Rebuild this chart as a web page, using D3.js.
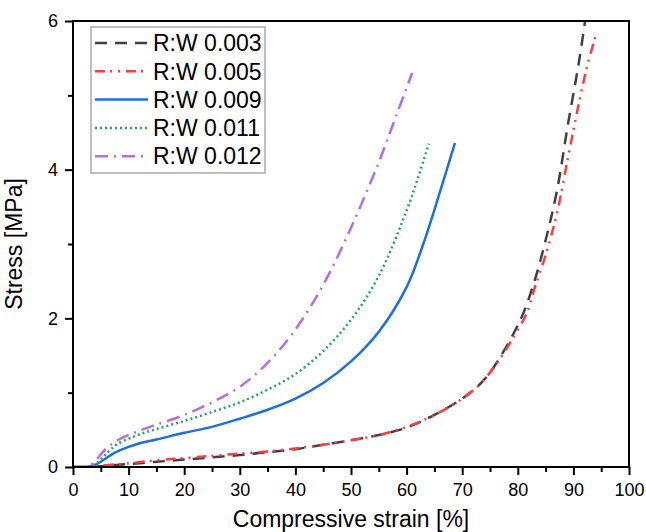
<!DOCTYPE html>
<html>
<head>
<meta charset="utf-8">
<script src="https://cdn.jsdelivr.net/npm/d3@7"></script>
<style>
  body { margin: 0; background: #fff; }
  text { font-family: "Liberation Sans", Arial, sans-serif; }
</style>
</head>
<body>
<svg id="chart" width="646" height="532"></svg>
<script>
// strain [%] / stress [MPa]
var rw003 = [[0,0],[3,0],[5,0.01],[10,0.04],[15,0.07],[20,0.1],[25,0.13],[30,0.16],[35,0.2],[40,0.24],[45,0.3],[50,0.36],[55,0.43],[60,0.53],[65,0.7],[70,0.92],[73,1.1],[75,1.27],[77,1.5],[79,1.76],[81,2.07],[83,2.5],[85,3.05],[87,3.7],[89,4.6],[91,5.45],[92.1,6.0]];
var rw005 = [[0,0],[3,0],[5,0.02],[10,0.05],[15,0.09],[20,0.12],[25,0.15],[30,0.18],[35,0.21],[40,0.25],[45,0.3],[50,0.36],[55,0.43],[60,0.54],[65,0.7],[70,0.92],[73,1.1],[75,1.27],[77,1.48],[79,1.72],[81.6,2.07],[83,2.4],[85,2.85],[87,3.4],[89,4.15],[91,4.9],[92.5,5.4],[94,5.8]];
var rw009 = [[0,0],[2,0],[3,0.01],[4,0.03],[5,0.07],[6,0.12],[7,0.17],[8,0.21],[10,0.27],[12,0.32],[15,0.37],[20,0.46],[25,0.54],[30,0.65],[35,0.77],[40,0.92],[45,1.13],[50,1.42],[55,1.82],[60,2.42],[63,3.0],[66,3.7],[68.7,4.36]];
var rw011 = [[0,0],[2,0],[3,0.01],[4,0.04],[5,0.1],[6,0.18],[7,0.25],[8,0.31],[10,0.38],[12,0.44],[15,0.51],[20,0.62],[25,0.74],[30,0.87],[35,1.04],[40,1.25],[45,1.56],[50,1.98],[55,2.57],[60,3.45],[62,3.88],[64,4.35]];
var rw012 = [[0,0],[2,0],[3,0.02],[4,0.08],[5,0.17],[6,0.25],[7,0.31],[8,0.36],[10,0.43],[12,0.49],[15,0.57],[20,0.7],[25,0.87],[30,1.08],[35,1.4],[40,1.85],[45,2.45],[50,3.22],[55,4.1],[58,4.7],[61,5.3]];

var seriesNames = ["R:W 0.003", "R:W 0.005", "R:W 0.009", "R:W 0.011", "R:W 0.012"];
var seriesData = [rw003, rw005, rw009, rw011, rw012];
var seriesColors = ["#404040", "#ff3c3c", "#1a6fe3", "#26a65b", "#b36ee6"];
var seriesDash = ["12,8", "10,5,2,6,2,6", null, "2,3", "13,6,2,6"];

var xTicks = [0, 10, 20, 30, 40, 50, 60, 70, 80, 90, 100];
var yTicks = [0, 2, 4, 6];

var svg = d3.select("#chart"),
    margin = {top: 21, right: 17, bottom: 65, left: 73},
    width = +svg.attr("width") - margin.left - margin.right,
    height = +svg.attr("height") - margin.top - margin.bottom,
    g = svg.append("g").attr("transform", "translate(" + margin.left + "," + margin.top + ")");

var x = d3.scaleLinear().domain([0, 100]).range([0, width]);
var y = d3.scaleLinear().domain([0, 6]).range([height, 0]);

svg.append("defs").append("clipPath").attr("id", "clip")
    .append("rect").attr("width", width).attr("height", height);

var line = d3.line()
    .x(function (d) { return x(d[0]); })
    .y(function (d) { return y(d[1]); })
    .curve(d3.curveCatmullRom.alpha(0.5));

g.append("g").attr("clip-path", "url(#clip)")
    .selectAll("path")
    .data(seriesData)
    .enter().append("path")
    .attr("d", line)
    .attr("fill", "none")
    .attr("stroke", function (d, i) { return seriesColors[i]; })
    .attr("stroke-width", 2.5)
    .attr("stroke-dasharray", function (d, i) { return seriesDash[i]; });

// minor ticks
g.append("g")
    .attr("transform", "translate(0," + height + ")")
    .call(d3.axisBottom(x).tickValues(d3.range(5, 100, 10)).tickSize(5).tickFormat(""))
    .call(function (a) { a.select(".domain").remove(); a.selectAll("line").attr("stroke-width", 2); });
g.append("g")
    .call(d3.axisLeft(y).tickValues([1, 3, 5]).tickSize(5).tickFormat(""))
    .call(function (a) { a.select(".domain").remove(); a.selectAll("line").attr("stroke-width", 2); });

// major ticks
var xAxis = g.append("g")
    .attr("transform", "translate(0," + height + ")")
    .call(d3.axisBottom(x).tickValues(xTicks).tickFormat(d3.format("d")).tickSize(8).tickPadding(8));
var yAxis = g.append("g")
    .call(d3.axisLeft(y).tickValues(yTicks).tickFormat(d3.format("d")).tickSize(8).tickPadding(7));

[xAxis, yAxis].forEach(function (a) {
    a.select(".domain").remove();
    a.selectAll("line").attr("stroke-width", 2);
    a.selectAll("text").attr("font-size", 18).attr("font-family", "Liberation Sans, Arial, sans-serif").attr("fill", "#000");
});

// frame
g.append("rect")
    .attr("width", width)
    .attr("height", height)
    .attr("fill", "none")
    .attr("stroke", "#000")
    .attr("stroke-width", 2);

g.append("text")
    .attr("x", width / 2)
    .attr("y", height + 60)
    .attr("text-anchor", "middle")
    .attr("font-size", 23)
    .text("Compressive strain [%]");

g.append("text")
    .attr("transform", "rotate(-90)")
    .attr("x", -height / 2)
    .attr("y", -51)
    .attr("text-anchor", "middle")
    .attr("font-size", 23)
    .text("Stress [MPa]");

// legend
var legend = g.append("g").attr("transform", "translate(18,6)");
legend.append("rect")
    .attr("width", 174)
    .attr("height", 146)
    .attr("fill", "#fff")
    .attr("stroke", "#aaa")
    .attr("stroke-width", 1.5);

var items = legend.selectAll("g.item")
    .data(seriesNames)
    .enter().append("g")
    .attr("class", "item")
    .attr("transform", function (d, i) { return "translate(0," + (16 + i * 28.3) + ")"; });

items.append("line")
    .attr("x1", 4).attr("x2", 57)
    .attr("stroke", function (d, i) { return seriesColors[i]; })
    .attr("stroke-width", 2.5)
    .attr("stroke-dasharray", function (d, i) { return seriesDash[i]; });

items.append("text")
    .attr("x", 62)
    .attr("dy", "0.36em")
    .attr("font-size", 23)
    .text(function (d) { return d; });
</script>
</body>
</html>
